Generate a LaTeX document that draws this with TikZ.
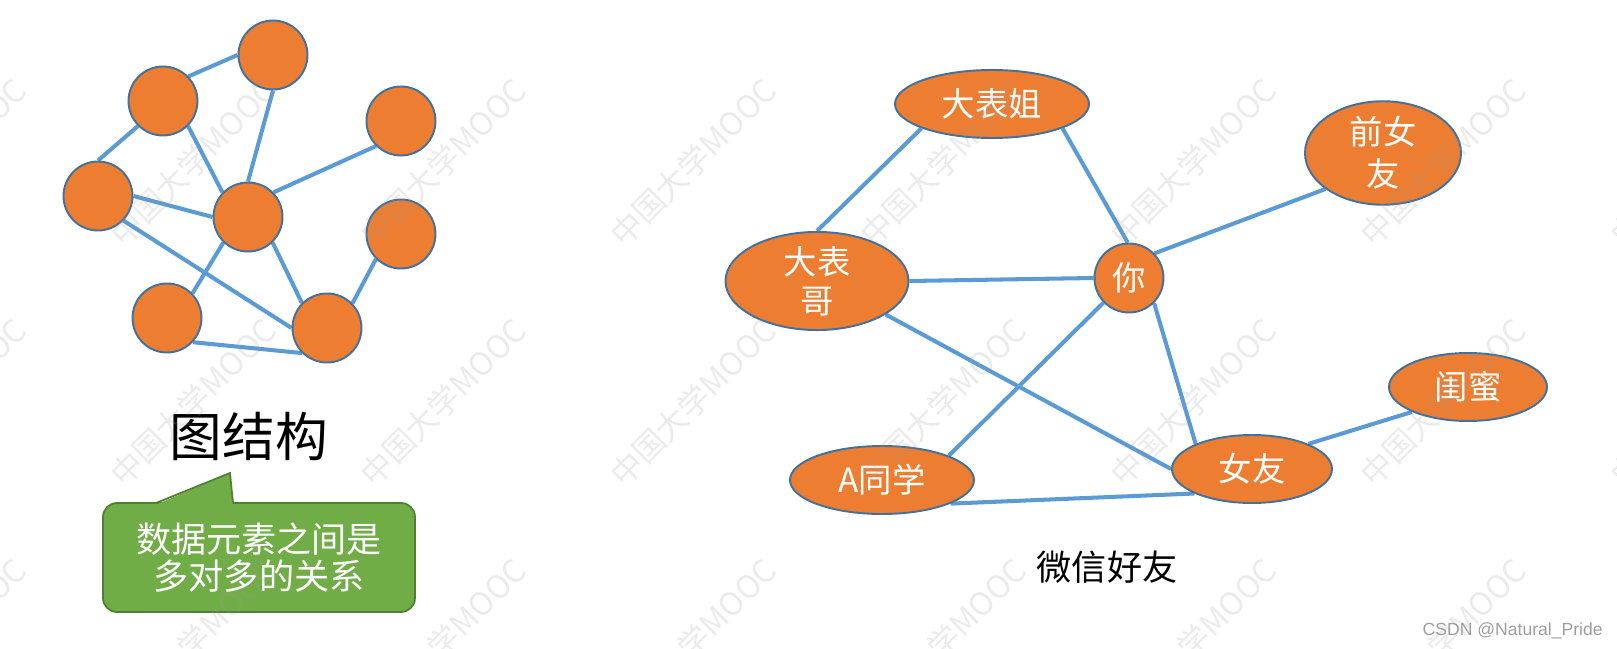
\documentclass[tikz,border=0pt]{standalone}
\usepackage{fontspec}
\setmainfont{Noto Sans CJK SC}
\newfontfamily\latinsans{Liberation Sans}
\usetikzlibrary{shapes.geometric,backgrounds}
\definecolor{nodeorange}{HTML}{ED7D31}
\definecolor{nodeborder}{HTML}{41719C}
\definecolor{edgeblue}{HTML}{5B9BD5}
\definecolor{calloutgreen}{HTML}{70AD47}
\definecolor{calloutborder}{HTML}{507E32}
\begin{document}
\begin{tikzpicture}[x=0.02cm,y=-0.02cm,
  dot/.style={circle,fill=nodeorange,draw=nodeborder,line width=1.1pt,minimum size=69*0.02cm,inner sep=0pt},
  friend/.style={ellipse,fill=nodeorange,draw=nodeborder,line width=1.1pt,inner sep=0pt,text=white,align=center,font=\fontsize{19}{22}\selectfont},
  link/.style={draw=edgeblue,line width=2.3pt},
  callbox/.style={rectangle,rounded corners=14*0.02cm,fill=calloutgreen,draw=calloutborder,line width=1pt,minimum width=312*0.02cm,minimum height=109*0.02cm,inner sep=0pt,text=white,align=center,font=\fontsize{20}{21.5}\selectfont},
  caption/.style={text=black,inner sep=0pt},
  watermark/.style={rotate=45,text=black!40,text opacity=0.2,inner sep=0pt,font=\fontsize{18}{18}\selectfont}
]
\useasboundingbox (0,0) rectangle (1617,649);

% ---------- left: graph structure ----------
\node[dot] (n1) at (273,55) {};
\node[dot] (n2) at (163,101) {};
\node[dot] (n3) at (401,121) {};
\node[dot] (n4) at (98,196) {};
\node[dot] (n5) at (248,217) {};
\node[dot] (n6) at (401,234) {};
\node[dot] (n7) at (167,318) {};
\node[dot] (n8) at (327,328) {};

\begin{scope}[on background layer]
\draw[link] (n1.180) -- (n2.44);
\draw[link] (n1.270) -- (n5.90);
\draw[link] (n2.225) -- (n4.90);
\draw[link] (n2.315) -- (n5.136);
\draw[link] (n4.0) -- (n5.180);
\draw[link] (n4.316) -- (n8.180);
\draw[link] (n3.225) -- (n5.44);
\draw[link] (n5.226) -- (n7.44);
\draw[link] (n5.314) -- (n8.135);
\draw[link] (n6.225) -- (n8.44);
\draw[link] (n7.317) -- (n8.225);
\end{scope}

\node[caption,font=\fontsize{30}{30}\selectfont] (title1) at (249,436) {图结构};

\node[callbox] (note) at (259,557.5) {数据元素之间是\\多对多的关系};
\fill[calloutgreen] (156,504.6) -- (230,473) -- (233,504.6) -- cycle;
\draw[calloutborder,line width=1pt,line join=miter] (156,503) -- (230,473) -- (233,503);

% ---------- right: WeChat friends ----------
\node[friend,minimum width=194*0.02cm,minimum height=68*0.02cm] (dbj) at (992,104) {大表姐};
\node[friend,minimum width=183*0.02cm,minimum height=90*0.02cm] (dbg) at (817,281) {大表\\哥};
\node[friend,circle,minimum size=69*0.02cm] (ni) at (1129,278) {你};
\node[friend,minimum width=156*0.02cm,minimum height=98*0.02cm,font=\fontsize{19}{24}\selectfont] (qny) at (1383,153) {前女\\友};
\node[friend,minimum width=184*0.02cm,minimum height=68*0.02cm] (atx) at (882,480) {A同学};
\node[friend,minimum width=160*0.02cm,minimum height=68*0.02cm] (ny) at (1252,469) {女友};
\node[friend,minimum width=158*0.02cm,minimum height=68*0.02cm] (gm) at (1468,387) {闺蜜};

\begin{scope}[on background layer]
\draw[link] (dbj.199) -- (dbg.90);
\draw[link] (dbj.341) -- (ni.92);
\draw[link] (dbg.0) -- (ni.180);
\draw[link] (dbg.334) -- (ny.180);
\draw[link] (ni.44) -- (qny.212);
\draw[link] (ni.224) -- (atx.20);
\draw[link] (ni.315) -- (ny.156);
\draw[link] (atx.341) -- (ny.203);
\draw[link] (ny.24) -- (gm.204);
\end{scope}

\node[caption,font=\fontsize{20}{20}\selectfont] (title2) at (1107,567) {微信好友};

% ---------- watermarks ----------
\foreach \wx in {-137,113,363,613,863,1113,1363,1613}{
  \foreach \wy in {240,480,720}{
    \node[watermark] (wm\wx\wy) at (\wx+80,\wy-78) {中国大学MOOC};
  }
}

\node[anchor=east,inner sep=0pt,text=black!38,font=\latinsans\fontsize{10}{10}\selectfont] (credit) at (1603,631) {CSDN @Natural\_Pride};
\end{tikzpicture}
\end{document}
